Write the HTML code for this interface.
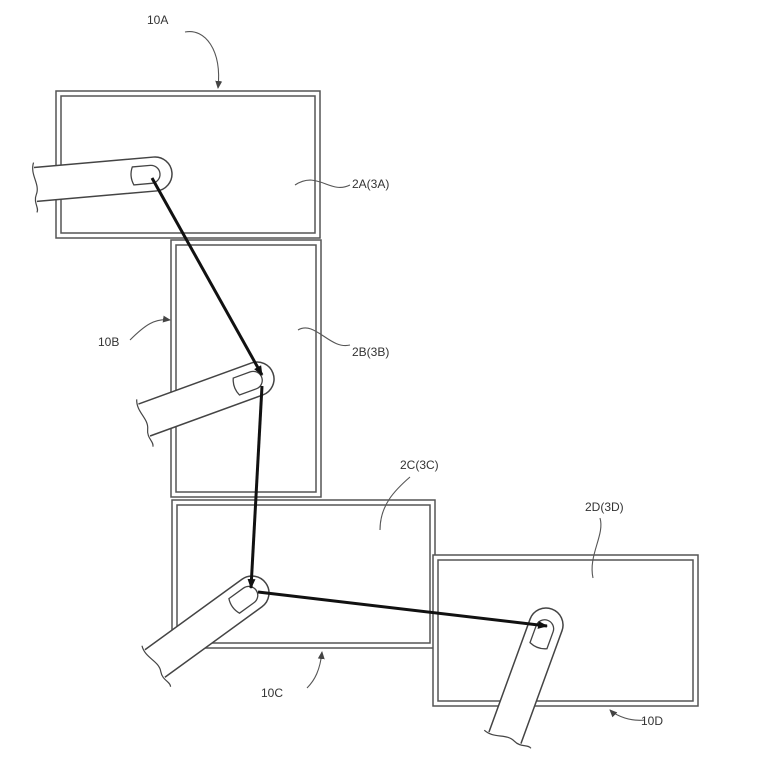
<!DOCTYPE html>
<html><head><meta charset="utf-8"><style>
html,body{margin:0;padding:0;background:#fff;}
svg{display:block;}
text{font-family:"Liberation Sans",sans-serif;font-size:12px;fill:#333;}
</style></head><body>
<svg width="765" height="784" viewBox="0 0 765 784" xmlns="http://www.w3.org/2000/svg">
<defs>
<marker id="ah" markerWidth="10" markerHeight="10" refX="9" refY="5" orient="auto" markerUnits="userSpaceOnUse">
<path d="M0,1 L10,5 L0,9 z" fill="#111"/></marker>
<marker id="sa" markerWidth="8" markerHeight="8" refX="7" refY="4" orient="auto" markerUnits="userSpaceOnUse">
<path d="M0,0.5 L8,4 L0,7.5 z" fill="#444"/></marker>
<g id="finger">
<path d="M-120,-17 L0,-17 A17,17 0 0 1 0,17 L-120,17" fill="#fff" stroke="#444" stroke-width="1.5"/>
<path d="M-120,-22 C-125,-10 -115,0 -120,10 C-124,18 -118,24 -121,28" fill="none" stroke="#444" stroke-width="1.2"/>
<path d="M-22,-9 L-4,-9 A9,9 0 0 1 -4,9 L-22,9 Q-26,0 -22,-9 z" fill="#fff" stroke="#444" stroke-width="1.3"/>
</g>
</defs>
<g fill="none" stroke="#555" stroke-width="1.5">
<rect x="171" y="240" width="150" height="257"/><rect x="176" y="245" width="140" height="247"/>
<rect x="56" y="91" width="264" height="147" fill="#fff"/><rect x="61" y="96" width="254" height="137"/>
<rect x="172" y="500" width="263" height="148" fill="#fff"/><rect x="177" y="505" width="253" height="138"/>
<rect x="433" y="555" width="265" height="151" fill="#fff"/><rect x="438" y="560" width="255" height="141"/>
</g>
<use href="#finger" transform="translate(155,174) rotate(-5)"/>
<use href="#finger" transform="translate(257,379) rotate(-20)"/>
<use href="#finger" transform="translate(252,593) rotate(-36)"/>
<use href="#finger" transform="translate(546,625) rotate(-70)"/>
<g stroke="#111" stroke-width="3" fill="none">
<line x1="152" y1="178" x2="262" y2="375" marker-end="url(#ah)"/>
<line x1="262" y1="386" x2="251" y2="588" marker-end="url(#ah)"/>
<line x1="258" y1="592" x2="547" y2="626" marker-end="url(#ah)"/>
</g>
<g fill="none" stroke="#555" stroke-width="1.1">
<path d="M185,32 C205,28 222,50 218,88" marker-end="url(#sa)"/>
<path d="M130,340 C145,325 155,318 170,320" marker-end="url(#sa)"/>
<path d="M307,688 C315,680 320,670 322,652" marker-end="url(#sa)"/>
<path d="M645,720 C625,722 612,712 610,710" marker-end="url(#sa)"/>
<path d="M295,185 C318,170 330,195 350,185"/>
<path d="M298,330 C315,320 330,350 350,345"/>
<path d="M380,530 C380,505 395,490 410,477"/>
<path d="M593,578 C588,555 605,535 600,518"/>
</g>
<text x="147" y="24">10A</text>
<text x="352" y="188">2A(3A)</text>
<text x="98" y="346">10B</text>
<text x="352" y="356">2B(3B)</text>
<text x="400" y="469">2C(3C)</text>
<text x="585" y="511">2D(3D)</text>
<text x="261" y="697">10C</text>
<text x="641" y="725">10D</text>
</svg>
</body></html>
